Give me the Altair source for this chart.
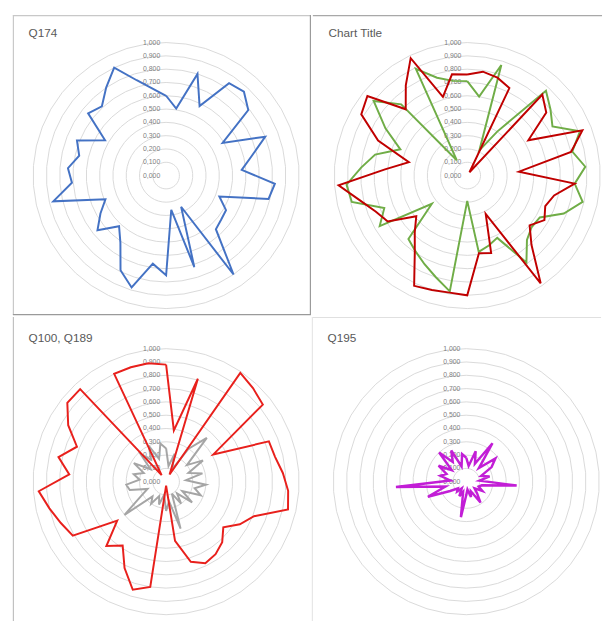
import altair as alt
import pandas as pd

FONT = "Liberation Sans"
N = 42
categories = list(range(N))

levels = [0.0, 0.1, 0.2, 0.3, 0.4, 0.5, 0.6, 0.7, 0.8, 0.9, 1.0]
level_labels = ["0,000", "0,100", "0,200", "0,300", "0,400", "0,500",
                "0,600", "0,700", "0,800", "0,900", "1,000"]

q174 = [0.60, 0.51, 0.80, 0.58, 0.84, 0.86, 0.79, 0.49, 0.80, 0.66,
        0.57, 0.82, 0.79, 0.43, 0.52, 0.53, 0.55, 0.90, 0.26, 0.72,
        0.26, 0.75, 0.67, 0.88, 0.79, 0.61, 0.52, 0.66, 0.57, 0.49,
        0.87, 0.71, 0.74, 0.67, 0.72, 0.53, 0.75, 0.71, 0.80, 0.90,
        0.75, 0.66]

title_red = [0.76, 0.79, 0.77, 0.73, 0.03, 0.83, 0.76, 0.53, 0.93, 0.80,
             0.39, 0.81, 0.67, 0.63, 0.67, 0.60, 0.71, 0.98, 0.32, 0.61,
             0.59, 0.90, 0.89, 0.90, 0.92, 0.70, 0.58, 0.49, 0.69, 0.74,
             0.83, 0.97, 0.62, 0.45, 0.72, 0.92, 0.96, 0.68, 0.82, 0.98,
             0.62, 0.77]

title_green = [0.71, 0.60, 0.87, 0.21, 0.40, 0.87, 0.80, 0.74, 0.91, 0.81,
               0.89, 0.81, 0.89, 0.78, 0.63, 0.62, 0.66, 0.79, 0.52, 0.55,
               0.58, 0.19, 0.88, 0.80, 0.74, 0.69, 0.65, 0.34, 0.76, 0.67,
               0.89, 0.91, 0.80, 0.71, 0.54, 0.71, 0.90, 0.73, 0.14, 0.89,
               0.77, 0.72]

q100 = [0.88, 0.39, 0.81, 0.06, 0.99, 0.96, 0.93, 0.41, 0.83, 0.84,
        0.88, 0.92, 0.94, 0.71, 0.64, 0.55, 0.62, 0.66, 0.68, 0.63,
        0.45, 0.03, 0.80, 0.85, 0.72, 0.58, 0.66, 0.47, 0.81, 0.85,
        0.90, 0.96, 0.73, 0.83, 0.72, 0.85, 0.95, 0.95, 0.06, 0.90,
        0.90, 0.90]

q189 = [0.25, 0.12, 0.22, 0.10, 0.30, 0.45, 0.20, 0.32, 0.18, 0.28,
        0.15, 0.30, 0.22, 0.28, 0.14, 0.25, 0.12, 0.20, 0.10, 0.37,
        0.15, 0.22, 0.10, 0.18, 0.12, 0.20, 0.15, 0.40, 0.22, 0.15,
        0.28, 0.30, 0.20, 0.25, 0.18, 0.28, 0.15, 0.28, 0.20, 0.30,
        0.18, 0.29]

q195 = [0.18, 0.12, 0.24, 0.15, 0.35, 0.14, 0.28, 0.22, 0.12, 0.18,
        0.10, 0.38, 0.12, 0.10, 0.14, 0.08, 0.12, 0.19, 0.08, 0.12,
        0.06, 0.10, 0.27, 0.08, 0.12, 0.06, 0.10, 0.08, 0.14, 0.31,
        0.16, 0.53, 0.12, 0.20, 0.16, 0.24, 0.14, 0.30, 0.18, 0.26,
        0.12, 0.21]

R = 135.7  # pixels for value 1.0


def series_df(vals):
    return pd.DataFrame({"k": list(range(N + 1)), "value": [vals[k % N] for k in range(N + 1)]})


grid_rows = [{"level": lv, "k": k, "value": lv} for lv in levels[1:] for k in range(N + 1)]
grid_df = pd.DataFrame(grid_rows)
label_df = pd.DataFrame({"value": levels, "label": level_labels, "k": [0] * len(levels)})

calc = dict(
    px=f"datum.value * sin(2 * PI * datum.k / {N})",
    py=f"datum.value * cos(2 * PI * datum.k / {N})",
)


def panel(title, named, w, h, cx, cy, ty, borders):
    xs = alt.Scale(domain=[-cx / R, (w - cx) / R], nice=False, zero=False)
    ys = alt.Scale(domain=[-(h - cy) / R, cy / R], nice=False, zero=False)
    X = alt.X("px:Q", scale=xs, axis=None)
    Y = alt.Y("py:Q", scale=ys, axis=None)

    grid = alt.Chart(grid_df).transform_calculate(**calc).mark_line(
        color="#d9d9d9", strokeWidth=1, clip=True
    ).encode(x=X, y=Y, detail="level:N", order="k:Q")

    labels = alt.Chart(label_df).transform_calculate(**calc).mark_text(
        align="right", baseline="middle", dx=-6, fontSize=7, font=FONT, color="#808080"
    ).encode(x=X, y=Y, text="label:N")

    layers = [grid, labels]
    for vals, col, sw in named:
        layers.append(
            alt.Chart(series_df(vals)).transform_calculate(**calc).mark_line(
                strokeWidth=sw, clip=True, color=col
            ).encode(x=X, y=Y, order="k:Q")
        )

    ttl = alt.Chart(pd.DataFrame({"t": [title]})).mark_text(
        align="left", baseline="middle", fontSize=12, font=FONT, color="#595959"
    ).encode(x=alt.value(16), y=alt.value(ty), text="t:N")
    layers.append(ttl)

    one = pd.DataFrame({"a": [0]})
    for side, col in borders:
        if side == "top":
            enc = dict(x=alt.value(0), x2=alt.value(w), y=alt.value(0.5))
        elif side == "left":
            enc = dict(x=alt.value(0.5), y=alt.value(0), y2=alt.value(h))
        elif side == "bottom":
            enc = dict(x=alt.value(0), x2=alt.value(w), y=alt.value(h - 0.5))
        else:
            enc = dict(x=alt.value(w - 0.5), y=alt.value(0), y2=alt.value(h))
        layers.append(alt.Chart(one).mark_rule(color=col, strokeWidth=1.2).encode(**enc))

    return alt.layer(*layers).properties(width=w, height=h)


WL, WR = 304, 295
HT, HB = 306, 310

tl = panel("Q174", [(q174, "#4472C4", 2)], WL, HT, 156.3, 163.7, 18,
           [("top", "#c8c8c8"), ("left", "#c8c8c8"), ("bottom", "#9a9a9a"), ("right", "#9a9a9a")])
tr = panel("Chart Title", [(title_green, "#70AD47", 2), (title_red, "#C00000", 2)],
           WR, HT, 157.5, 163.7, 18, [("top", "#a8a8a8")])
bl = panel("Q100, Q189", [(q189, "#A5A5A5", 2), (q100, "#E8201C", 2)],
           WL, HB, 156.3, 168, 21, [("left", "#c0c0c0")])
br = panel("Q195", [(q195, "#C21ED6", 2.5)], WR, HB, 157.5, 168, 21,
           [("top", "#e0e0e0"), ("left", "#e6e6e6")])

chart = alt.vconcat(
    alt.hconcat(tl, tr, spacing=0),
    alt.hconcat(bl, br, spacing=0),
    spacing=0,
).properties(
    padding={"left": 4, "top": 0, "right": 0, "bottom": 0},
    background="white",
).configure_view(stroke=None)

chart.save("out.html", embed_options={"renderer": "svg", "actions": False})
